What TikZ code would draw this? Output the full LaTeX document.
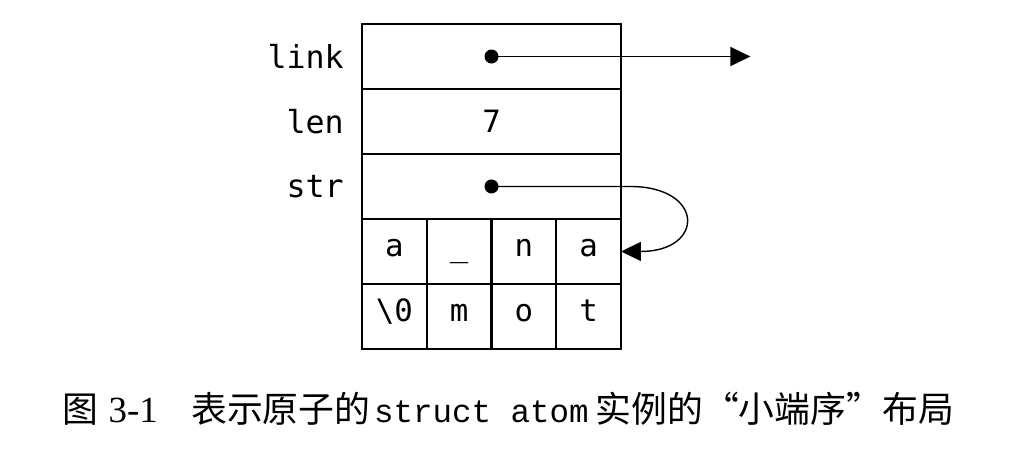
\documentclass[tikz,border=0pt]{standalone}
\usepackage{fontspec}
\usetikzlibrary{positioning,arrows.meta}
\newfontfamily\cjk{Noto Sans CJK SC}
\newfontfamily\lgmono{DejaVu Sans Mono}
\newfontfamily\crmono{Liberation Mono}
\newfontfamily\tmserif{Liberation Serif}
\tikzset{
  field/.style={draw,line width=1.4pt,outer sep=0pt,inner sep=0pt,minimum width=5.18cm,minimum height=1.3cm,font=\lgmono\fontsize{17.5}{20}\selectfont},
  cell/.style={draw,line width=1.4pt,outer sep=0pt,inner sep=0pt,minimum width=1.295cm,minimum height=1.3cm,text height=0.75em,text depth=0.2em,font=\lgmono\fontsize{17.5}{20}\selectfont},
  lbl/.style={inner sep=0pt,font=\lgmono\fontsize{18}{21}\selectfont},
  ptrdot/.style={circle,fill,inner sep=0pt,minimum size=0.28cm},
  ptr/.style={line width=0.8pt,-{Triangle[length=0.4cm,width=0.38cm]}}
}
\begin{document}
\begin{tikzpicture}[x=0.02cm,y=-0.02cm]
\useasboundingbox (0,0) rectangle (1017,457);
\node[field] (link) at (491.5,56.5) {};
\node[field,below=0pt of link] (len) {7};
\node[field,below=0pt of len] (str) {};
\node[cell,anchor=north west] (c1) at (str.south west) {a};
\node[cell,right=0pt of c1] (c2) {\string_};
\node[cell,right=0pt of c2] (c3) {n};
\node[cell,right=0pt of c3] (c4) {a};
\node[cell,below=0pt of c1] (c5) {\textbackslash0};
\node[cell,right=0pt of c5] (c6) {m};
\node[cell,right=0pt of c6] (c7) {o};
\node[cell,right=0pt of c7] (c8) {t};
\node[lbl,left=0.36cm of link] (linklbl) {link};
\node[lbl,left=0.36cm of len] (lenlbl) {len};
\node[lbl,left=0.36cm of str] (strlbl) {str};
\node[ptrdot] (ldot) at (link.center) {};
\node[ptrdot] (sdot) at (str.center) {};
\coordinate (lend) at ([xshift=2.59cm]link.east);
\draw[ptr] (ldot.center)--(lend);
\draw[ptr] (sdot.center)--([xshift=0.18cm]str.east) .. controls ([xshift=1.68cm]str.east) and ([xshift=1.68cm]c4.east) .. (c4.east);
\node[anchor=west,inner sep=0pt] (caption) at (62,409) {{\cjk\fontsize{20.4}{24}\selectfont 图}\hspace{6pt}{\tmserif\fontsize{21}{24}\selectfont 3-1}\hspace{19pt}{\cjk\fontsize{20.4}{24}\selectfont 表示原子的}\hspace{2pt}{\crmono\fontsize{18.5}{22}\selectfont struct atom}\hspace{4pt}{\cjk\fontsize{20.4}{24}\selectfont 实例的“小端序”布局}};
\end{tikzpicture}
\end{document}
